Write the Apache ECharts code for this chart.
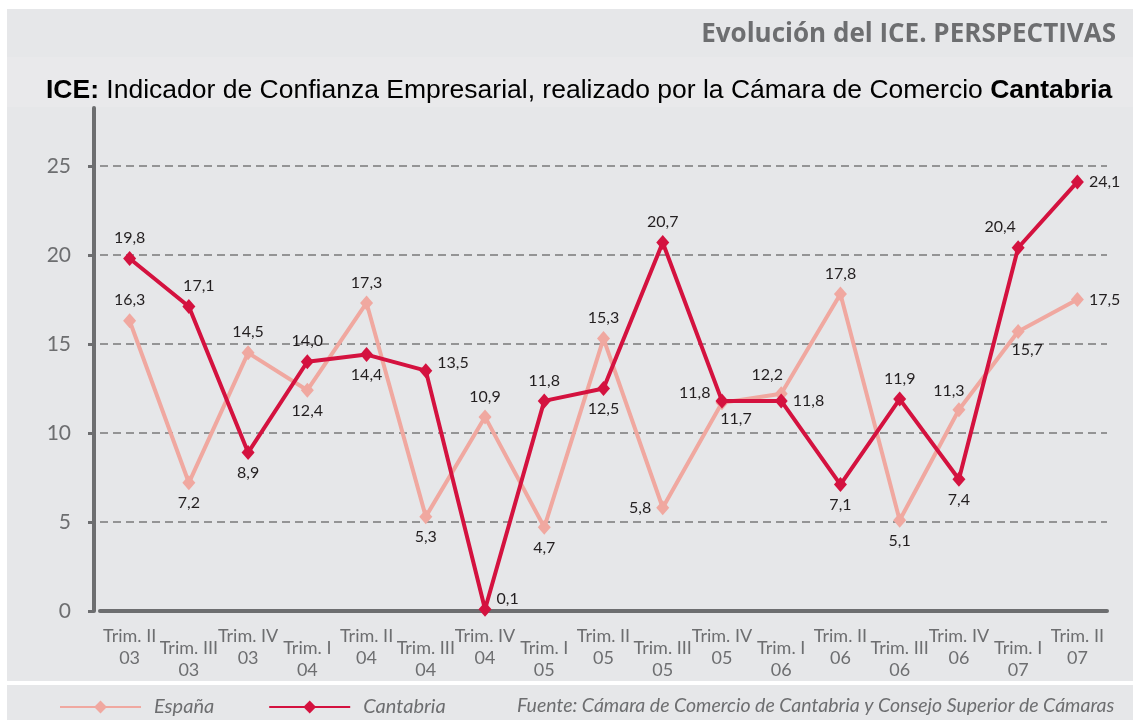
<!DOCTYPE html>
<html>
<head>
<meta charset="utf-8">
<title>Evolución del ICE</title>
<script src="https://cdn.jsdelivr.net/npm/echarts@6/dist/echarts.min.js"></script>
<style>
  html, body { margin: 0; padding: 0; background: #fff; }
  #chart { width: 1133px; height: 720px; }
</style>
</head>
<body>
<div id="chart"></div>
<script>
// datos
const categories = [
  "Trim. II\n03", "Trim. III\n03", "Trim. IV\n03", "Trim. I\n04",
  "Trim. II\n04", "Trim. III\n04", "Trim. IV\n04", "Trim. I\n05",
  "Trim. II\n05", "Trim. III\n05", "Trim. IV\n05", "Trim. I\n06",
  "Trim. II\n06", "Trim. III\n06", "Trim. IV\n06", "Trim. I\n07",
  "Trim. II\n07"
];
const espana = [16.3, 7.2, 14.5, 12.4, 17.3, 5.3, 10.9, 4.7, 15.3, 5.8, 11.7, 12.2, 17.8, 5.1, 11.3, 15.7, 17.5];
const cantabria = [19.8, 17.1, 8.9, 14.0, 14.4, 13.5, 0.1, 11.8, 12.5, 20.7, 11.8, 11.8, 7.1, 11.9, 7.4, 20.4, 24.1];
const yTicks = [0, 5, 10, 15, 20, 25];

// donde va cada etiqueta
const espanaLabelPos = [
  ["top"], ["bottom"], ["top"], ["bottom"], ["top"], ["bottom"], ["top"], ["bottom"],
  ["top"], ["left"], ["bottom", [14, -4]], ["top", [-14, 2]], ["top"], ["bottom"],
  ["top", [-10, 2]], ["bottom", [9, -2]], ["right"]
];
const cantabriaLabelPos = [
  ["top"], ["top", [10, 0]], ["bottom"], ["top"], ["bottom"], ["right", [0, -8]],
  ["right", [0, -10]], ["top"], ["bottom"], ["top"], ["left", [0, -8]], ["right"],
  ["bottom"], ["top"], ["bottom"], ["top", [-18, 0]], ["right"]
];

const gris = "#6d6e70";
const fmt = (v) => v.toFixed(1).replace(".", ",");

function buildData(values, pos) {
  return values.map((v, i) => ({
    value: v,
    label: { position: pos[i][0], offset: pos[i][1] || [0, 0] }
  }));
}

const labelStyle = {
  show: true,
  fontFamily: "Lato",
  fontSize: 16,
  color: "#231f20",
  formatter: (p) => fmt(p.value)
};

const chart = echarts.init(document.getElementById("chart"));
const option = {
  backgroundColor: "#ffffff",
  animation: false,
  graphic: [
    { type: "rect", z: -10, shape: { x: 7, y: 9, width: 1126, height: 672 }, style: { fill: "#e6e7e9" } },
    { type: "rect", z: -9, shape: { x: 7, y: 57, width: 1126, height: 50 }, style: { fill: "#e9e9eb" } },
    { type: "rect", z: -10, shape: { x: 7, y: 685, width: 1126, height: 35 }, style: { fill: "#e6e7e9" } },
    {
      type: "text", z: 10, x: 517, y: 706,
      style: {
        text: "Fuente: Cámara de Comercio de Cantabria y Consejo Superior de Cámaras",
        font: "italic 19.5px Lato", fill: gris, verticalAlign: "middle"
      }
    }
  ],
  title: [
    {
      text: "Evolución del ICE. PERSPECTIVAS",
      right: 12, top: 17,
      textStyle: { fontFamily: "Open Sans", fontSize: 26, fontWeight: "bold", color: gris }
    },
    {
      text: "{b|ICE:} Indicador de Confianza Empresarial, realizado por la Cámara de Comercio {b|Cantabria}",
      left: 41, top: 72,
      textStyle: {
        fontFamily: "Liberation Sans", fontSize: 26.5, fontWeight: "normal", color: "#000",
        rich: { b: { fontFamily: "Liberation Sans", fontSize: 26.5, fontWeight: "bold", color: "#000" } }
      }
    }
  ],
  legend: {
    data: ["España", "Cantabria"],
    left: 54, top: 692,
    itemWidth: 81, itemHeight: 16, itemGap: 54,
    lineStyle: { width: 2 },
    textStyle: { fontFamily: "Lato", fontSize: 20, fontStyle: "italic", color: gris, padding: [0, 0, 0, 8] }
  },
  grid: { left: 100, right: 26, top: 108, bottom: 109 },
  xAxis: {
    type: "category",
    data: categories,
    boundaryGap: true,
    axisLine: { lineStyle: { color: gris, width: 4 } },
    axisTick: { interval: 0, length: 8, lineStyle: { color: gris, width: 3 } },
    axisLabel: {
      interval: 0,
      margin: 14,
      fontFamily: "Lato", fontSize: 18, color: gris, lineHeight: 22,
      formatter: (v, i) => (i % 2 ? "{s| }\n" + v : v),
      rich: { s: { lineHeight: 12, fontSize: 8 } }
    },
    splitLine: { show: false }
  },
  yAxis: {
    type: "value",
    min: 0, max: 28.25, interval: 5,
    offset: 6,
    axisLine: { show: true, lineStyle: { color: gris, width: 4 } },
    axisTick: { show: true, length: 6, customValues: yTicks, lineStyle: { color: gris, width: 3 } },
    axisLabel: {
      margin: 23, customValues: yTicks,
      fontFamily: "Lato", fontSize: 21, color: gris
    },
    splitLine: {
      show: true, showMinLine: false,
      lineStyle: { color: "#7a7a7a", width: 1.5, type: [8, 5] }
    }
  },
  series: [
    {
      name: "España",
      type: "line",
      data: buildData(espana, espanaLabelPos),
      symbol: "diamond", symbolSize: [13, 15],
      itemStyle: { color: "#f0a8a0" },
      lineStyle: { color: "#f0a8a0", width: 4 },
      label: labelStyle,
      z: 2
    },
    {
      name: "Cantabria",
      type: "line",
      data: buildData(cantabria, cantabriaLabelPos),
      symbol: "diamond", symbolSize: [13, 15],
      itemStyle: { color: "#d4123f" },
      lineStyle: { color: "#d4123f", width: 4 },
      label: labelStyle,
      z: 3
    }
  ]
};
chart.setOption(option);
</script>
</body>
</html>
